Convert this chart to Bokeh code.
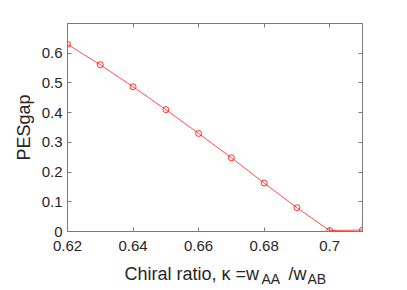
from bokeh.plotting import figure
from bokeh.models import Range1d, FixedTicker, LinearAxis, ColumnDataSource
from bokeh.layouts import column
from bokeh.core.properties import value
from bokeh.embed import file_html
from bokeh.resources import INLINE

kappa = [0.62, 0.63, 0.64, 0.65, 0.66, 0.67, 0.68, 0.69, 0.70, 0.71]
pes_gap = [0.630, 0.561, 0.487, 0.410, 0.330, 0.248, 0.163, 0.080, 0.003, 0.005]
x_ticks = [0.62, 0.64, 0.66, 0.68, 0.70]
x_tick_labels = ["0.62", "0.64", "0.66", "0.68", "0.7"]
y_ticks = [0, 0.1, 0.2, 0.3, 0.4, 0.5, 0.6]
y_tick_labels = ["0", "0.1", "0.2", "0.3", "0.4", "0.5", "0.6"]
x_label_parts = ["Chiral ratio, \u03ba =w", "AA", "/w", "AB"]

FONT = "Liberation Sans"
AXC = "#7a7a7a"
TXC = "#262626"

W = 399
H1 = 260
H2 = 30
BL, BR = 67, 37

p = figure(width=W, height=H1, output_backend="svg", toolbar_location=None,
           x_range=Range1d(0.62, 0.71), y_range=Range1d(0, 0.7),
           min_border_left=BL, min_border_right=BR, min_border_top=23, min_border_bottom=29)
p.grid.visible = False
p.outline_line_color = AXC
p.outline_line_width = 1
p.background_fill_color = "white"
p.border_fill_color = "white"

src = ColumnDataSource(dict(x=kappa, y=pes_gap))
p.line("x", "y", source=src, line_color="#ff0000", line_width=0.7)
p.scatter("x", "y", source=src, marker="circle", size=6, fill_color=None,
          line_color="#ff0000", line_width=0.8)

def style(ax, ticks, labels, show):
    ax.ticker = FixedTicker(ticks=ticks)
    ax.major_label_overrides = {t: l for t, l in zip(ticks, labels)}
    ax.major_tick_in = 4
    ax.major_tick_out = 0
    ax.minor_tick_line_color = None
    ax.axis_line_color = AXC
    ax.major_tick_line_color = AXC
    ax.major_label_text_font = FONT
    ax.major_label_text_font_size = "15px" if show else "0px"
    ax.major_label_text_color = TXC if show else None
    ax.major_label_standoff = 5 if show else 0

style(p.xaxis[0], x_ticks, x_tick_labels, True)
p.xaxis[0].major_label_standoff = 9
style(p.yaxis[0], y_ticks, y_tick_labels, True)
p.yaxis[0].axis_label = "PESgap"
p.yaxis[0].axis_label_text_font = FONT
p.yaxis[0].axis_label_text_font_size = "18px"
p.yaxis[0].axis_label_text_font_style = "normal"
p.yaxis[0].axis_label_text_color = TXC
p.yaxis[0].axis_label_standoff = 5

top = LinearAxis()
style(top, x_ticks, x_tick_labels, False)
p.add_layout(top, "above")
right = LinearAxis()
style(right, y_ticks, y_tick_labels, False)
p.add_layout(right, "right")

# x-axis label strip; its frame is aligned with the main frame, so use pixel coords
q = figure(width=W, height=H2, output_backend="svg", toolbar_location=None,
           x_range=Range1d(BL, W - BR), y_range=Range1d(0, H2),
           min_border_left=BL, min_border_right=BR, min_border_top=0, min_border_bottom=0)
q.axis.visible = False
q.grid.visible = False
q.outline_line_color = None
q.border_fill_color = "white"
q.background_fill_color = "white"
lab_x = [124, 261, 288, 307]
lab_y = [17, 12, 17, 12]
lab_size = ["18px", "14px", "18px", "14px"]
for t, xx, yy, sz in zip(x_label_parts, lab_x, lab_y, lab_size):
    q.text(x=[xx], y=[yy], text=[t], text_font=value(FONT), text_font_size=value(sz),
           text_color=TXC, text_align="left", text_baseline="alphabetic")

layout = column(p, q, spacing=0)
open("out.html", "w").write(file_html(layout, INLINE))
